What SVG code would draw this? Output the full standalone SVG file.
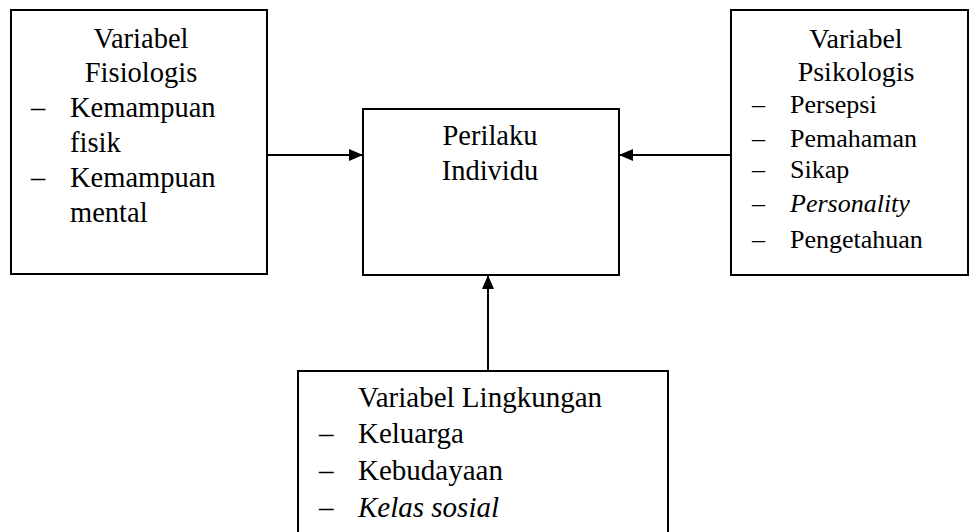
<svg xmlns="http://www.w3.org/2000/svg" width="978" height="532" viewBox="0 0 978 532">
<style>
.box{fill:#fff;stroke:#000;stroke-width:2}
.t{font-family:"Liberation Serif","Times New Roman",serif;fill:#000}
.c{text-anchor:middle}
.i{font-style:italic}
.con{stroke:#000;stroke-width:2;fill:none}
</style>
<defs>
<marker id="ah" markerWidth="14" markerHeight="12" refX="14" refY="6" orient="auto" markerUnits="userSpaceOnUse">
<path d="M0,0 L14,6 L0,12 Z" fill="#000"/>
</marker>
</defs>
<rect width="978" height="532" fill="#fff"/>
<g id="fisiologis">
<rect class="box" x="11" y="10" width="256" height="264"/>
<g class="t" font-size="28.5">
<text class="c" x="141" y="48">Variabel</text>
<text class="c" x="141" y="82">Fisiologis</text>
<text x="31" y="117">–</text><text x="70" y="117">Kemampuan</text>
<text x="70" y="152">fisik</text>
<text x="31" y="187">–</text><text x="70" y="187">Kemampuan</text>
<text x="70" y="222">mental</text>
</g>
</g>
<g id="perilaku">
<rect class="box" x="363" y="109" width="256" height="166"/>
<g class="t" font-size="28.5">
<text class="c" x="490" y="145">Perilaku</text>
<text class="c" x="490" y="180">Individu</text>
</g>
</g>
<g id="psikologis">
<rect class="box" x="731" y="10" width="237" height="265"/>
<g class="t" font-size="28">
<text class="c" x="856" y="48">Variabel</text>
<text class="c" x="856" y="81">Psikologis</text>
</g>
<g class="t" font-size="26">
<text x="752" y="113">–</text><text x="790" y="113">Persepsi</text>
<text x="752" y="147">–</text><text x="790" y="147">Pemahaman</text>
<text x="752" y="178">–</text><text x="790" y="178">Sikap</text>
<text x="752" y="212">–</text><text class="i" x="790" y="212">Personality</text>
<text x="752" y="248">–</text><text x="790" y="248">Pengetahuan</text>
</g>
</g>
<g id="lingkungan">
<rect class="box" x="298" y="371" width="370" height="175"/>
<g class="t" font-size="29">
<text x="358" y="407">Variabel Lingkungan</text>
<text x="319" y="443">–</text><text x="358" y="443">Keluarga</text>
<text x="319" y="480">–</text><text x="358" y="480">Kebudayaan</text>
<text x="319" y="517">–</text><text class="i" x="358" y="517">Kelas sosial</text>
</g>
</g>
<g id="connectors">
<line class="con" x1="267" y1="155" x2="363" y2="155" marker-end="url(#ah)"/>
<line class="con" x1="731" y1="155" x2="619" y2="155" marker-end="url(#ah)"/>
<line class="con" x1="488" y1="371" x2="488" y2="275" marker-end="url(#ah)"/>
</g>
</svg>
